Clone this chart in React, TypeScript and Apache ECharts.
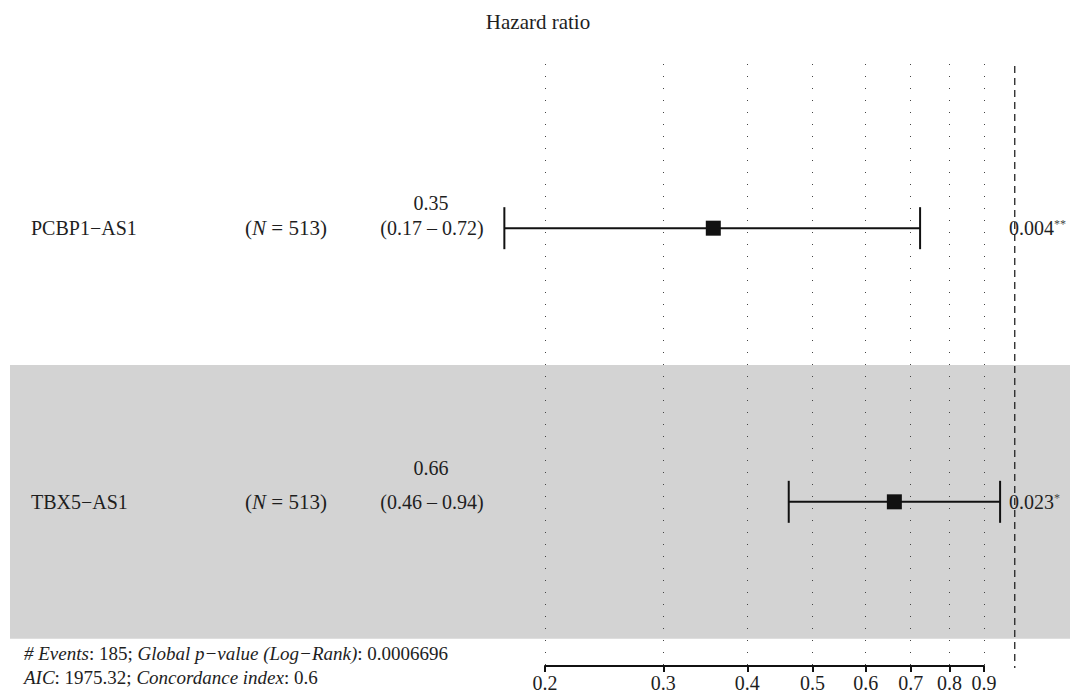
import React, { useEffect, useRef } from "react";
import * as echarts from "echarts";

// ---- data ----
const variables = ["PCBP1−AS1", "TBX5−AS1"];
const sampleSizes = [513, 513];
const hazardRatios = [0.356, 0.662];
const ciLower = [0.174, 0.461];
const ciUpper = [0.723, 0.951];
const hrLabels = ["0.35", "0.66"];
const ciLabels = ["(0.17 – 0.72)", "(0.46 – 0.94)"];
const pValueLabels = ["0.004", "0.023"];
const significance = ["**", "*"];
const shadedRows = [0, 1];
const xTickValues = [0.2, 0.3, 0.4, 0.5, 0.6, 0.7, 0.8, 0.9];
const referenceHR = 1;
const nEvents = 185;
const globalP = "0.0006696";
const aic = "1975.32";
const concordance = "0.6";

// ---- layout ----
const FONT = "'Liberation Serif', 'Times New Roman', serif";
const TXT = "#1e1e1e";
const Y_MIN = 0.4;
const Y_MAX = 2.6;
const HR_LABEL_LIFT = [25, 34];

export default function App() {
  const ref = useRef<HTMLDivElement>(null);

  useEffect(() => {
    if (!ref.current) return;
    const chart = echarts.init(ref.current, undefined, { renderer: "svg" });

    const italic = { fontStyle: "italic", fontFamily: FONT, fontSize: 19, fill: TXT };
    const upright = { fontFamily: FONT, fontSize: 19, fill: TXT };

    const option: any = {
      animation: false,
      graphic: [
        {
          type: "text",
          x: 538,
          y: 22,
          style: {
            text: "Hazard ratio",
            fontFamily: FONT,
            fontSize: 21,
            fill: TXT,
            align: "center",
            verticalAlign: "middle",
          },
        },
        {
          type: "text",
          x: 24,
          y: 653,
          style: {
            text: `{i|# Events}{u|: ${nEvents}; }{i|Global p−value (Log−Rank)}{u|: ${globalP}}`,
            rich: { i: italic, u: upright },
            verticalAlign: "middle",
            align: "left",
          },
        },
        {
          type: "text",
          x: 24,
          y: 677,
          style: {
            text: `{i|AIC}{u|: ${aic}; }{i|Concordance index}{u|: ${concordance}}`,
            rich: { i: italic, u: upright },
            verticalAlign: "middle",
            align: "left",
          },
        },
      ],
      grid: { left: 545, right: 86, top: 64, bottom: 30 },
      xAxis: {
        type: "log",
        logBase: 10,
        min: 0.2,
        max: 0.9,
        axisLine: { show: true, onZero: false, lineStyle: { color: "#111", width: 2 } },
        axisTick: {
          show: true,
          length: 6,
          lineStyle: { color: "#111", width: 2 },
          customValues: xTickValues,
        },
        axisLabel: {
          customValues: xTickValues,
          formatter: (v: number) => String(Math.round(v * 10) / 10),
          color: TXT,
          fontFamily: FONT,
          fontSize: 20,
          margin: 7,
        },
        splitLine: { show: true, lineStyle: { color: "#444", width: 1, type: [1, 11] } },
        minorTick: { show: false },
        minorSplitLine: { show: false },
      },
      yAxis: { type: "value", min: Y_MIN, max: Y_MAX, inverse: true, show: false },
      series: [
        {
          type: "custom",
          z: -1,
          silent: true,
          clip: false,
          data: shadedRows.map((s, i) => [referenceHR, i + 1, s]),
          encode: { x: 0, y: 1 },
          renderItem: (params: any, api: any) => {
            if (!api.value(2)) return null;
            const row = api.value(1);
            const top = api.coord([referenceHR, row - 0.5])[1];
            const bottom = api.coord([referenceHR, row + 0.5])[1];
            return {
              type: "rect",
              shape: { x: 10, y: top, width: api.getWidth() - 10, height: bottom - top },
              style: { fill: "#d3d3d3" },
            };
          },
        },
        {
          type: "custom",
          silent: true,
          clip: false,
          data: [[referenceHR, Y_MIN]],
          encode: { x: 0, y: 1 },
          renderItem: (params: any, api: any) => {
            const p1 = api.coord([api.value(0), Y_MIN]);
            const p2 = api.coord([api.value(0), Y_MAX]);
            return {
              type: "line",
              shape: { x1: p1[0], y1: p1[1] + 2, x2: p2[0], y2: p2[1] + 2 },
              style: { stroke: "#222", lineWidth: 1.3, lineDash: [7, 5] },
            };
          },
        },
        {
          type: "custom",
          silent: true,
          clip: false,
          data: variables.map((_, i) => [hazardRatios[i], i + 1, ciLower[i], ciUpper[i]]),
          encode: { x: 0, y: 1 },
          renderItem: (params: any, api: any) => {
            const i = params.dataIndex;
            const row = api.value(1);
            const [xm, ym] = api.coord([api.value(0), row]);
            const xl = api.coord([api.value(2), row])[0];
            const xh = api.coord([api.value(3), row])[0];
            const cap = 21;
            const sq = 15;
            const lineStyle = { stroke: "#111", lineWidth: 2 };
            const txt = (extra: any) => ({
              fontFamily: FONT,
              fontSize: 20,
              fill: TXT,
              verticalAlign: "middle",
              ...extra,
            });
            return {
              type: "group",
              children: [
                { type: "line", shape: { x1: xl, y1: ym, x2: xh, y2: ym }, style: lineStyle },
                { type: "line", shape: { x1: xl, y1: ym - cap, x2: xl, y2: ym + cap }, style: lineStyle },
                { type: "line", shape: { x1: xh, y1: ym - cap, x2: xh, y2: ym + cap }, style: lineStyle },
                { type: "rect", shape: { x: xm - sq / 2, y: ym - sq / 2, width: sq, height: sq }, style: { fill: "#111" } },
                { type: "text", x: 31, y: ym, style: txt({ text: variables[i], align: "left" }) },
                {
                  type: "text",
                  x: 286,
                  y: ym,
                  style: txt({
                    text: `{u|(}{i|N}{u| = ${sampleSizes[i]})}`,
                    align: "center",
                    rich: {
                      u: { fontFamily: FONT, fontSize: 21, fill: TXT },
                      i: { fontFamily: FONT, fontSize: 21, fill: TXT, fontStyle: "italic" },
                    },
                  }),
                },
                { type: "text", x: 431, y: ym - HR_LABEL_LIFT[i], style: txt({ text: hrLabels[i], align: "center" }) },
                { type: "text", x: 432, y: ym, style: txt({ text: ciLabels[i], align: "center" }) },
                {
                  type: "text",
                  x: 1009,
                  y: ym,
                  style: txt({
                    text: `{p|${pValueLabels[i]}}{s|${significance[i]}}`,
                    align: "left",
                    rich: {
                      p: { fontFamily: FONT, fontSize: 20, fill: TXT },
                      s: { fontFamily: FONT, fontSize: 12, fill: "#444", verticalAlign: "top" },
                    },
                  }),
                },
              ],
            };
          },
        },
      ],
    };

    chart.setOption(option);
    return () => chart.dispose();
  }, []);

  return (
    <div
      ref={ref}
      style={{ position: "absolute", left: 0, top: 0, width: 1070, height: 696, background: "#fff" }}
    />
  );
}
